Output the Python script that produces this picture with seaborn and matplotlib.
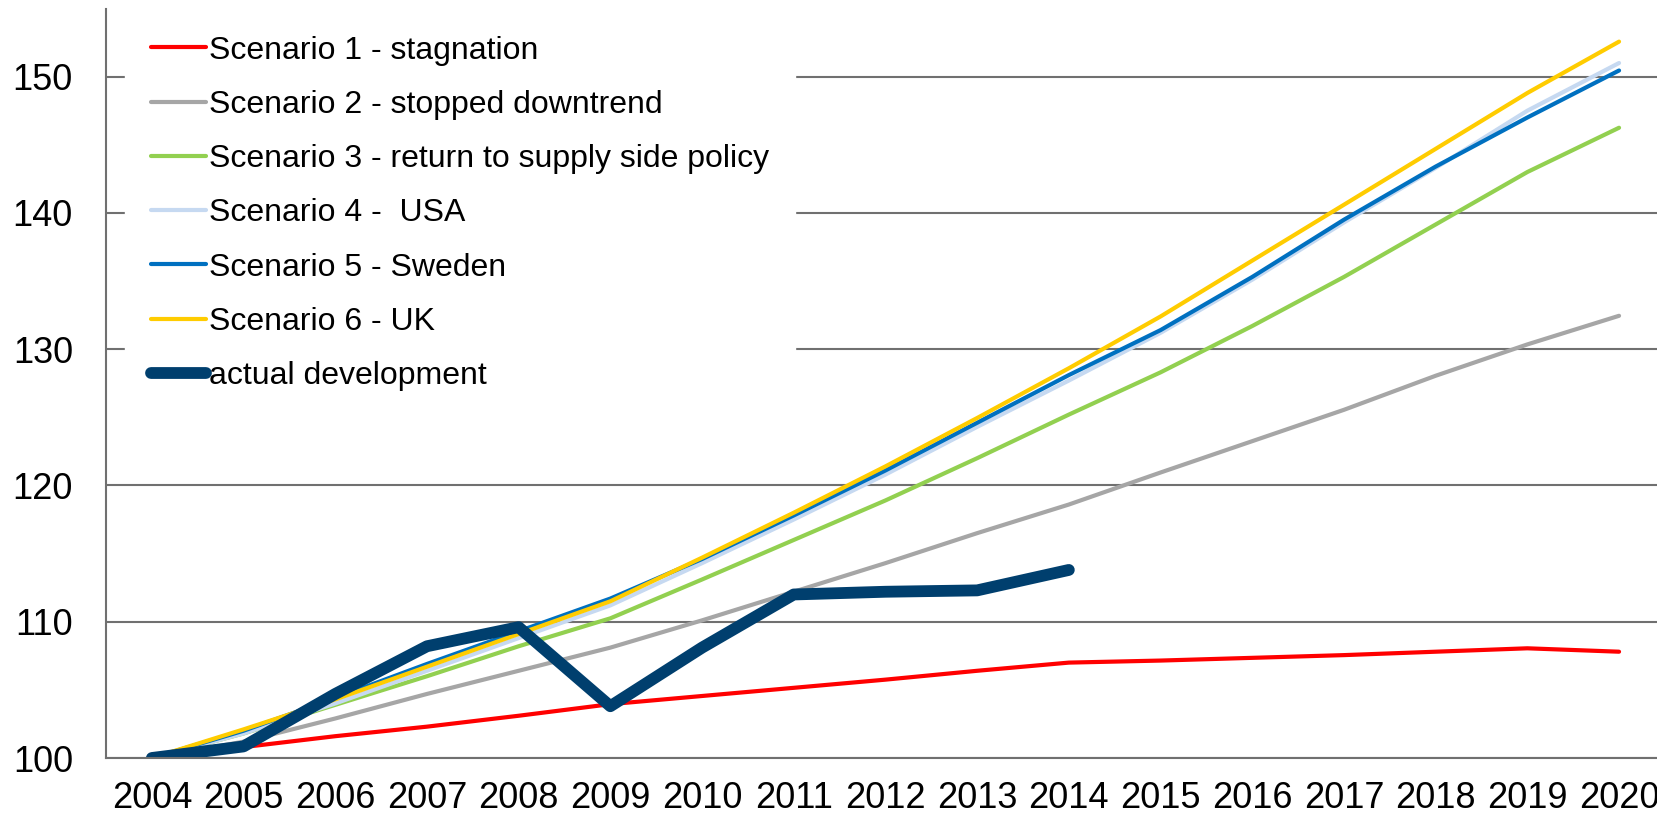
import numpy as np
import pandas as pd
import matplotlib
matplotlib.use("Agg")
import matplotlib.pyplot as plt
import seaborn as sns

years = [str(y) for y in range(2004, 2021)]
actual_years = [str(y) for y in range(2004, 2015)]

s1_stagnation = [100, 100.8, 101.6, 102.3, 103.1, 103.95, 104.55, 105.15, 105.75, 106.4, 107.0,
                 107.15, 107.35, 107.55, 107.8, 108.05, 107.8]
s2_stopped = [100, 101.2, 102.9, 104.7, 106.4, 108.1, 110.1, 112.2, 114.3, 116.5, 118.6,
              120.95, 123.25, 125.55, 128.05, 130.35, 132.45]
s3_supply = [100, 101.8, 103.9, 106.0, 108.2, 110.25, 113.1, 116.0, 118.9, 122.0, 125.2,
             128.3, 131.7, 135.3, 139.15, 143.0, 146.25]
s4_usa = [100, 101.8, 104.0, 106.4, 108.8, 111.2, 114.3, 117.5, 120.8, 124.3, 127.7,
          131.2, 135.1, 139.3, 143.3, 147.5, 151.0]
s5_sweden = [100, 102.0, 104.4, 106.9, 109.3, 111.7, 114.6, 117.8, 121.1, 124.6, 128.1,
             131.4, 135.3, 139.5, 143.4, 147.0, 150.45]
s6_uk = [100, 102.1, 104.3, 106.7, 109.1, 111.5, 114.7, 118.0, 121.4, 124.95, 128.6,
         132.4, 136.5, 140.6, 144.7, 148.8, 152.57]
actual = [100, 100.85, 104.7, 108.2, 109.6, 103.8, 108.1, 112.0, 112.2, 112.3, 113.8]

labels = ["Scenario 1 - stagnation", "Scenario 2 - stopped downtrend",
          "Scenario 3 - return to supply side policy", "Scenario 4 -  USA",
          "Scenario 5 - Sweden", "Scenario 6 - UK", "actual development"]
colors = ["#FF0000", "#A6A6A6", "#92D050", "#C6D9F1", "#0070C0", "#FFCC00", "#003F6E"]
widths = [3.0, 3.0, 3.0, 3.0, 3.0, 3.0, 8.5]

sns.set_style("white")
plt.rcParams["font.family"] = ["Liberation Sans", "DejaVu Sans"]
plt.rcParams["text.color"] = "black"
plt.rcParams["xtick.labelcolor"] = "black"
plt.rcParams["ytick.labelcolor"] = "black"

W, H = 1658, 818
fig = plt.figure(figsize=(W / 100, H / 100), dpi=100)
ax = fig.add_axes([106 / W, (H - 758) / H, 17 * 91.7 / W, (758 - 8.5) / H])

pos = {y: i for i, y in enumerate(years)}
series = [s1_stagnation, s2_stopped, s3_supply, s4_usa, s5_sweden, s6_uk]
for vals, lab, col, lw in zip(series, labels[:6], colors[:6], widths[:6]):
    df = pd.DataFrame({"x": [pos[y] for y in years], "v": vals})
    sns.lineplot(data=df, x="x", y="v", color=col, linewidth=lw, label=lab, ax=ax)
dfa = pd.DataFrame({"x": [pos[y] for y in actual_years], "v": actual})
sns.lineplot(data=dfa, x="x", y="v", color=colors[6], linewidth=widths[6], label=labels[6], ax=ax)

for line, lw in zip(ax.get_lines(), widths):
    line.set_linewidth(lw)
    line.set_solid_joinstyle("round")
    line.set_solid_capstyle("round")

ax.set_xlim(-0.5, 16.5)
ax.set_ylim(100, 155)
ax.set_xlabel("")
ax.set_ylabel("")

axis_gray = "#707070"
ax.set_xticks(np.arange(-0.5, 17, 1))
ax.set_xticklabels([])
ax.set_xticks(np.arange(17), minor=True)
ax.set_xticklabels(years, minor=True, fontsize=26, color="black")
ax.tick_params(axis="x", which="minor", length=0, pad=16.5)
ax.tick_params(axis="x", which="major", length=7.2, width=1.5, color=axis_gray, direction="out")

ax.set_yticks([100, 110, 120, 130, 140, 150])
ax.set_yticklabels(["100", "110", "120", "130", "140", "150"], fontsize=26, color="black")
ax.tick_params(axis="y", length=15, width=1.5, color=axis_gray, direction="inout", pad=16.3)

ax.set_axisbelow(True)
ax.yaxis.grid(True, color=axis_gray, linewidth=1.5)
ax.xaxis.grid(False)

for s in ["top", "right"]:
    ax.spines[s].set_visible(False)
for s in ["left", "bottom"]:
    ax.spines[s].set_color(axis_gray)
    ax.spines[s].set_linewidth(1.5)
    ax.spines[s].set_zorder(3)

leg = ax.legend(loc="upper left", bbox_to_anchor=(125.5 / W, 1 - 10 / H),
                bbox_transform=fig.transFigure, borderaxespad=0, fontsize=23,
                frameon=True, fancybox=False, shadow=False, framealpha=1,
                edgecolor="white", facecolor="white", handlelength=1.72,
                handletextpad=0.1, labelspacing=0.76, borderpad=0.8)
for t in leg.get_texts():
    t.set_color("black")
for h, lw in zip(leg.legend_handles, widths):
    h.set_linewidth(lw)
    h.set_solid_capstyle("round")
leg.set_zorder(2.2)

fig.savefig("out.png", dpi=100)
